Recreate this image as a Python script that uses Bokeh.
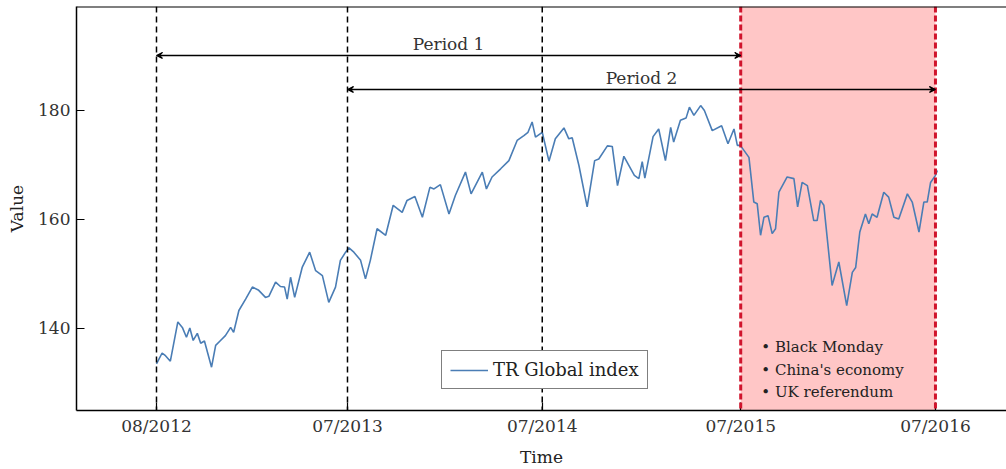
from bokeh.plotting import figure
from bokeh.models import (Range1d, FixedTicker, Span, BoxAnnotation, Arrow, VeeHead,
                          Legend, LegendItem, Label)
from bokeh.embed import file_html
from bokeh.resources import INLINE

# ---- data (x in weeks since the 08/2012 tick) ----
weeks = [0.0, 1.5, 2.4, 3.7, 5.7, 6.9, 8.0, 8.9, 9.8, 10.9, 11.8, 12.8, 14.7, 15.8, 17.1,
         18.4, 19.8, 20.6, 22.0, 23.8, 25.6, 27.3, 29.1, 30.0, 31.8, 33.1, 34.2, 34.9, 35.8,
         36.9, 38.9, 40.9, 42.5, 44.3, 46.0, 47.8, 49.1, 50.5, 51.4, 52.7, 54.5, 55.8, 57.1,
         58.9, 61.2, 63.2, 65.6, 66.9, 69.0, 71.0, 73.0, 74.1, 75.8, 78.1, 79.8, 82.5, 84.0,
         87.0, 88.1, 89.6, 91.9, 94.1, 96.3, 98.1, 99.2, 100.3, 101.2, 103.0, 104.8, 106.5,
         108.8, 110.1, 111.0, 112.8, 115.0, 117.0, 118.1, 120.4, 121.7, 123.1, 124.8, 127.6,
         128.8, 129.7, 130.4, 132.6, 134.1, 135.9, 137.3, 138.1, 139.9, 141.4, 142.3, 143.5,
         145.3, 146.3, 148.4, 150.9, 152.6, 154.2, 155.1, 155.9, 158.2, 159.5, 160.4, 161.3,
         162.2, 163.3, 164.4, 165.3, 166.2, 168.4, 170.2, 171.2, 172.4, 173.8, 175.5, 176.4,
         177.3, 178.2, 180.4, 182.2, 184.3, 185.8, 186.7, 187.8, 189.3, 190.2, 191.1, 192.4,
         194.2, 195.5, 196.9, 198.2, 200.5, 201.8, 203.6, 204.9, 205.8, 206.7, 208.0, 208.5]
values = [133.5, 135.5, 135.0, 134.0, 141.2, 140.2, 138.4, 140.1, 137.8, 139.1, 137.3, 137.7,
          132.9, 136.9, 137.8, 138.7, 140.2, 139.3, 143.3, 145.4, 147.6, 147.0, 145.7, 145.9,
          148.5, 147.7, 147.6, 145.4, 149.4, 145.7, 151.2, 154.0, 150.6, 149.7, 144.8, 147.6,
          152.5, 154.0, 154.8, 154.0, 152.5, 149.1, 152.5, 158.3, 157.1, 162.6, 161.3, 163.5,
          164.2, 160.4, 165.9, 165.6, 166.4, 161.0, 164.4, 168.7, 164.7, 168.7, 165.6, 167.8,
          169.3, 170.8, 174.5, 175.4, 176.0, 177.9, 175.1, 176.0, 170.7, 174.8, 176.8, 174.8,
          175.0, 169.9, 162.3, 170.8, 171.1, 173.5, 173.4, 166.2, 171.6, 168.1, 167.5, 170.6,
          167.6, 175.2, 176.6, 170.8, 176.9, 174.2, 178.2, 178.6, 180.6, 179.1, 180.9, 180.0,
          176.3, 177.2, 173.9, 176.6, 173.6, 173.6, 171.4, 163.2, 162.9, 157.1, 160.4, 160.7,
          157.4, 158.3, 165.0, 167.8, 167.5, 162.3, 166.8, 166.2, 159.8, 159.8, 163.5, 162.6,
          147.9, 152.2, 144.2, 150.3, 151.2, 157.7, 161.0, 159.2, 161.0, 160.4, 165.0, 164.1,
          160.4, 160.1, 164.7, 163.2, 157.7, 163.2, 163.2, 166.8, 168.1, 169.0]

tick_weeks = [0, 51, 103, 156, 208]
tick_labels = ["08/2012", "07/2013", "07/2014", "07/2015", "07/2016"]
y_ticks = [140, 160, 180]
black_marks = [0, 51, 103]
red_marks = [156, 208]
period_names = ["Period 1", "Period 2"]
period_start = [0, 51]
period_end = [156, 208]
period_level = [190.1, 183.85]
events = ["Black Monday", "China's economy", "UK referendum"]

FONT = "DejaVu Serif"

X0, X1 = -21.36, 226.97
Y0, Y1 = 124.95, 199.08

p = figure(width=1006, height=469, output_backend="svg", toolbar_location=None,
           x_range=Range1d(X0, X1), y_range=Range1d(Y0, Y1),
           min_border_left=76, min_border_right=0, min_border_top=6, min_border_bottom=59)
p.outline_line_color = None
p.xgrid.visible = False
p.ygrid.visible = False
p.background_fill_color = "white"

# shaded event period
p.add_layout(BoxAnnotation(left=red_marks[0], right=red_marks[1], fill_color="#ffc6c6",
                           fill_alpha=1.0, line_color=None, level="underlay"))

# vertical markers
for xm in black_marks:
    p.add_layout(Span(location=xm, dimension="height", line_color="black",
                      line_dash="6 4", line_width=1.5))

# series
r = p.line(weeks, values, line_color="#4a7db5", line_width=1.6)

for xm in red_marks:
    p.add_layout(Span(location=xm, dimension="height", line_color="#d0142c",
                      line_dash="6 3", line_width=3))

# top frame line
p.add_layout(Span(location=Y1, dimension="width", line_color="black", line_width=2))

# period arrows
for name, s, e, lvl in zip(period_names, period_start, period_end, period_level):
    p.add_layout(Arrow(x_start=s, x_end=e, y_start=lvl, y_end=lvl, line_width=1.5,
                       start=VeeHead(size=6, line_width=1.2), end=VeeHead(size=6, line_width=1.2)))
    p.add_layout(Label(x=(s + e) / 2, y=lvl + 2.1, text=name, text_align="center",
                       text_baseline="alphabetic", text_font=FONT, text_font_size="17px",
                       text_color="#333333"))

# event bullets
for i, ev in enumerate(events):
    p.add_layout(Label(x=red_marks[0] + 5.5, y=136.6 - 4.15 * i, text="\u2022 " + ev,
                       text_align="left", text_baseline="alphabetic", text_font=FONT,
                       text_font_size="15px", text_color="#222222"))

# axes
for ax in (p.xaxis[0], p.yaxis[0]):
    ax.axis_line_color = "black"
    ax.axis_line_width = 1.5
    ax.major_tick_in = 8
    ax.major_tick_out = 0
    ax.minor_tick_line_color = None
    ax.major_tick_line_color = "black"
    ax.major_tick_line_width = 1.2
    ax.major_label_text_font = FONT
    ax.major_label_text_font_size = "17px"
    ax.major_label_text_color = "#333333"
    ax.axis_label_text_font = FONT
    ax.axis_label_text_font_size = "17px"
    ax.axis_label_text_font_style = "normal"
    ax.axis_label_text_color = "#222222"

p.xaxis[0].ticker = FixedTicker(ticks=tick_weeks)
p.xaxis[0].major_label_overrides = {w: l for w, l in zip(tick_weeks, tick_labels)}
p.xaxis[0].axis_label = "Time"
p.xaxis[0].major_label_standoff = 5
p.xaxis[0].axis_label_standoff = 8

p.yaxis[0].ticker = FixedTicker(ticks=y_ticks)
p.yaxis[0].axis_label = "Value"
p.yaxis[0].major_label_standoff = 6
p.yaxis[0].axis_label_standoff = 8

legend = Legend(items=[LegendItem(label="TR Global index", renderers=[r])],
                location=(365, 21), border_line_color="black", border_line_width=1.5,
                background_fill_color="white", background_fill_alpha=1.0,
                padding=8, margin=0, spacing=0, glyph_width=38, glyph_height=20,
                label_standoff=5, label_height=20, label_text_font=FONT,
                label_text_font_size="18px", label_text_color="#222222")
p.add_layout(legend)

open("out.html", "w").write(file_html(p, INLINE))
